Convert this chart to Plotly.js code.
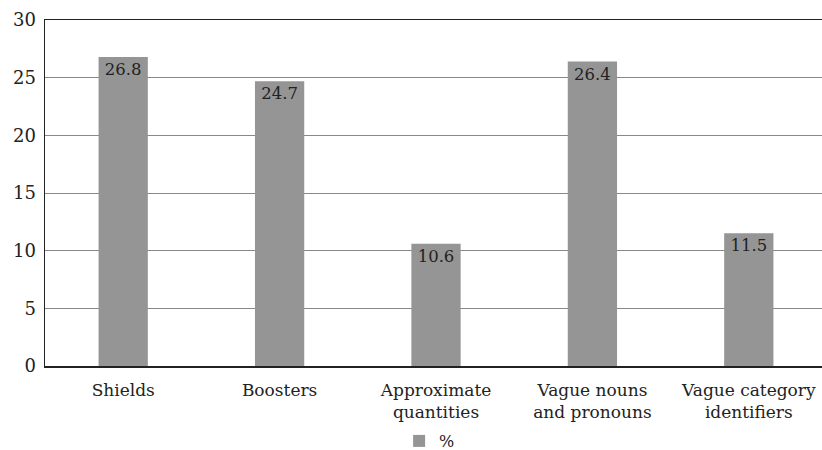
<!DOCTYPE html>
<html>
<head>
<meta charset="utf-8">
<script src="https://cdn.plot.ly/plotly-3.0.1.min.js"></script>
<style>html,body{margin:0;padding:0;background:#fff}</style>
</head>
<body>
<div id="chart" style="width:822px;height:450px"></div>
<script>
var categories = ["Shields", "Boosters", "Approximate<br>quantities", "Vague nouns<br>and pronouns", "Vague category<br>identifiers"];
var values = [26.8, 24.7, 10.6, 26.4, 11.5];
var seriesName = "%";
var yTicks = [0, 5, 10, 15, 20, 25, 30];

var font = "DejaVu Serif, Liberation Serif, serif";
var trace = {
  type: "bar",
  x: categories,
  y: values,
  name: seriesName,
  text: values.map(function(v){return v.toFixed(1);}),
  textposition: "inside",
  insidetextanchor: "end",
  textangle: 0,
  textfont: {family: font, size: 16.5, color: "#222"},
  marker: {color: "#959595"},
  width: 0.315,
  showlegend: true
};
var layout = {
  width: 822, height: 450,
  margin: {l: 45, r: 0, t: 20, b: 84},
  paper_bgcolor: "#fff", plot_bgcolor: "#fff",
  font: {family: font, size: 17, color: "#222"},
  xaxis: {
    type: "category",
    range: [-0.5, 4.468],
    showline: true, linecolor: "#222", linewidth: 1.5,
    mirror: true,
    showgrid: false, ticks: "",
    ticklabelstandoff: 8,
    tickfont: {family: font, size: 17, color: "#222"}
  },
  yaxis: {
    range: [0, 30],
    tickvals: yTicks,
    ticktext: yTicks.map(String),
    showline: true, linecolor: "#222", linewidth: 1.5,
    showgrid: true, gridcolor: "#888", gridwidth: 1,
    zeroline: false, ticks: "",
    ticklabelstandoff: 4,
    tickfont: {family: font, size: 18, color: "#222"}
  },
  legend: {
    orientation: "h", x: 0.495, xanchor: "center",
    yref: "container", y: 0.02, yanchor: "middle",
    font: {family: font, size: 16, color: "#222"},
    itemwidth: 30
  },
  bargap: 0.7
};
Plotly.newPlot("chart", [trace], layout, {displayModeBar: false, staticPlot: true});
</script>
</body>
</html>
